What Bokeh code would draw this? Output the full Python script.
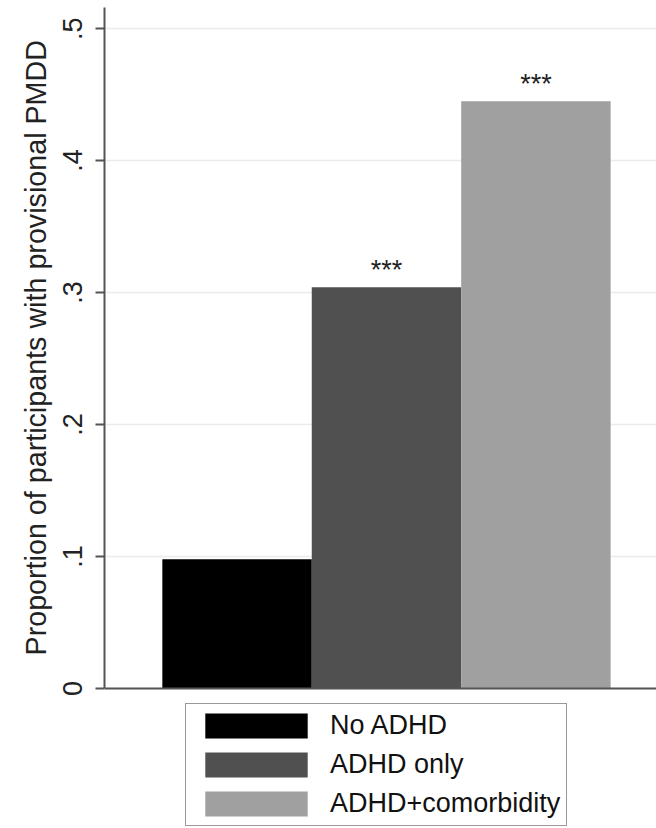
from bokeh.plotting import figure
from bokeh.models import Range1d, FixedTicker, Legend, LegendItem, ColumnDataSource, Span, Title
from bokeh.core.properties import value
from bokeh.embed import file_html
from bokeh.resources import INLINE

groups = ["No ADHD", "ADHD only", "ADHD+comorbidity"]
proportions = [0.098, 0.304, 0.445]
stars = ["", "***", "***"]
colors = ["#000000", "#505050", "#a0a0a0"]
y_ticks = [0, 0.1, 0.2, 0.3, 0.4, 0.5]
y_tick_labels = ["0", ".1", ".2", ".3", ".4", ".5"]
y_title = "Proportion of participants with provisional PMDD"

FONT = "Liberation Sans"
positions = [i + 1 for i in range(len(groups))]

# frame extends below zero to host the legend; the y axis is bounded to [0, top]
p = figure(width=656, height=828, x_axis_location=None,
           x_range=Range1d(0.113, 3.807), y_range=Range1d(-0.1061, 0.516),
           output_backend="svg", toolbar_location=None,
           min_border_left=104, min_border_right=0, min_border_top=7, min_border_bottom=0)
p.outline_line_color = None
p.background_fill_color = "white"

renderers = []
for i, g in enumerate(groups):
    src = ColumnDataSource(dict(x=[positions[i]], top=[proportions[i]], s=[stars[i]]))
    r = p.vbar(x="x", top="top", bottom=0, width=1.0, source=src,
               fill_color=colors[i], line_color=None)
    renderers.append(r)
    p.text(x="x", y="top", text="s", source=src, text_font=value(FONT),
           text_font_size="27px", text_align="center", text_baseline="alphabetic",
           y_offset=-17, text_color="#222222")

# y axis
yax = p.yaxis[0]
yax.bounds = (0, 0.516)
yax.ticker = FixedTicker(ticks=y_ticks)
yax.major_label_overrides = {t: l for t, l in zip(y_ticks, y_tick_labels)}
yax.major_label_orientation = "vertical"
yax.major_label_text_font = FONT
yax.major_label_text_font_size = "27px"
yax.major_label_text_color = "#222222"
yax.major_label_standoff = 13
yax.axis_line_color = "#555555"
yax.axis_line_width = 2
yax.major_tick_line_color = "#555555"
yax.major_tick_line_width = 2
yax.major_tick_out = 9
yax.major_tick_in = 0
yax.minor_tick_line_color = None

# y axis title, anchored so it sits alongside the bounded axis
ytitle = Title(text=y_title, align="left", offset=173, vertical_align="middle",
               standoff=16, text_font=FONT, text_font_size="28.7px",
               text_font_style="normal", text_color="#222222")
p.add_layout(ytitle, "left")

p.xgrid.grid_line_color = None
p.ygrid.ticker = FixedTicker(ticks=y_ticks)
p.ygrid.grid_line_color = "#ebebeb"
p.ygrid.grid_line_width = 1.5

# baseline (x axis line)
p.add_layout(Span(location=0, dimension="width", line_color="#555555", line_width=2))

items = [LegendItem(label=g, renderers=[renderers[i]]) for i, g in enumerate(groups)]
legend = Legend(items=items, location=(81, 2), orientation="vertical")
legend.label_text_font = FONT
legend.label_text_font_size = "27px"
legend.label_text_color = "#111111"
legend.glyph_width = 128
legend.glyph_height = 31
legend.label_standoff = 10
legend.label_height = 25
legend.spacing = 8
legend.padding = 6
legend.margin = 0
legend.border_line_color = "#333333"
legend.border_line_width = 1.5
legend.background_fill_color = "white"
p.add_layout(legend, "center")

open("out.html", "w").write(file_html(p, INLINE))
